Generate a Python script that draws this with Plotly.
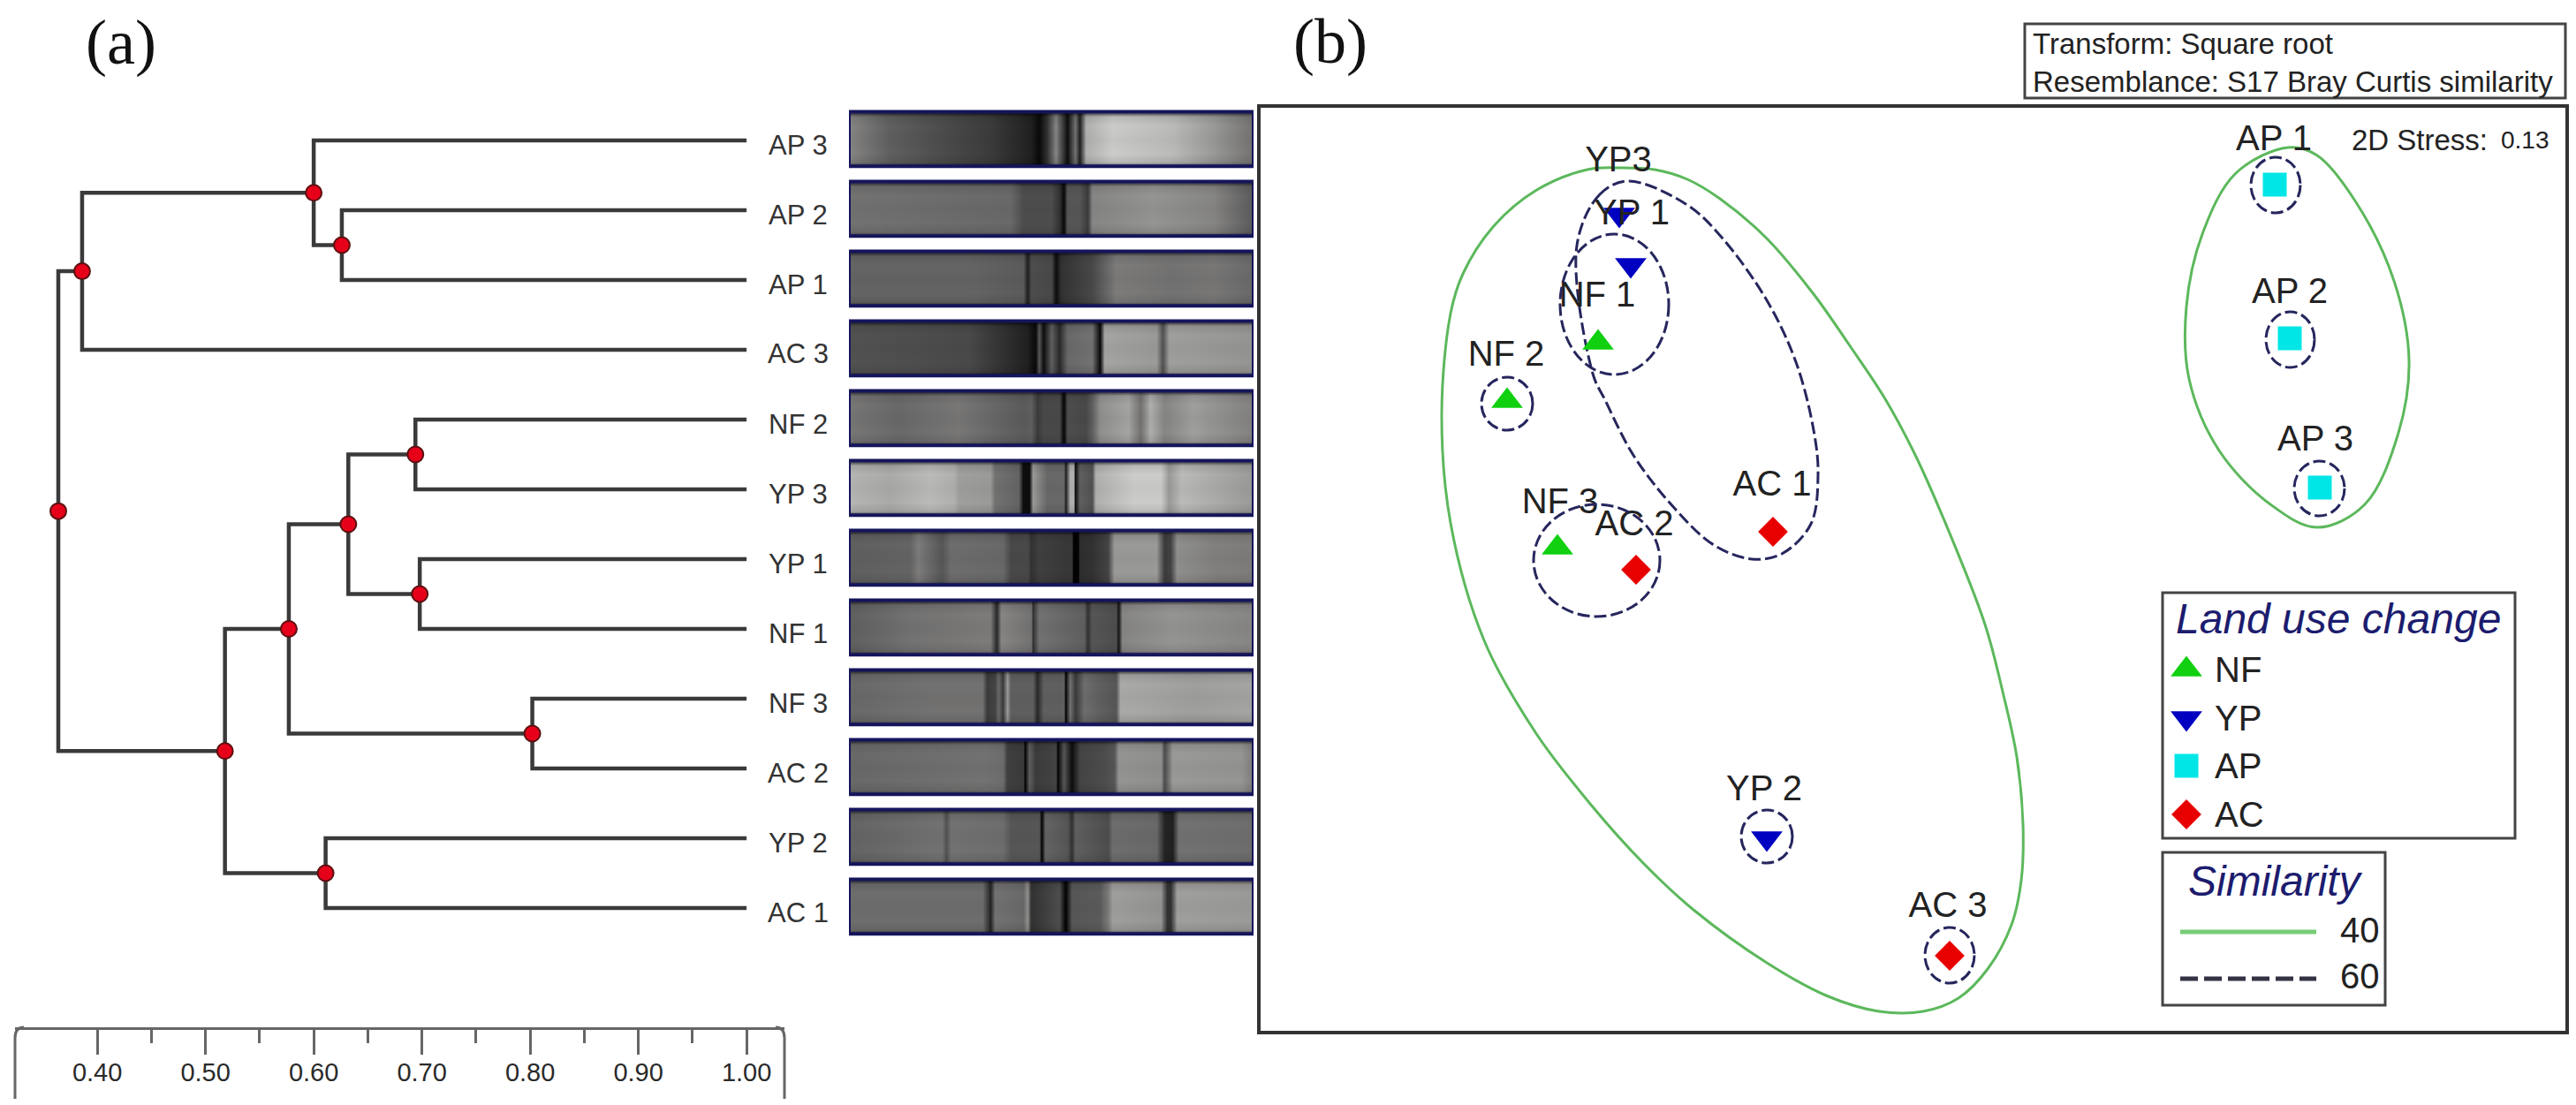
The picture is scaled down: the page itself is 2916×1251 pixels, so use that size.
import plotly.graph_objects as go

W, H = 2916, 1251

# dendrogram: leaves top to bottom, then merges (children index into leaves + earlier merges)
leaf_labels = ["AP 3", "AP 2", "AP 1", "AC 3", "NF 2", "YP 3", "YP 1", "NF 1", "NF 3", "AC 2", "YP 2", "AC 1"]
merge_left = [1, 0, 13, 4, 6, 15, 8, 17, 10, 19, 14]
merge_right = [2, 12, 3, 5, 7, 16, 9, 18, 11, 20, 21]
merge_similarity = [0.626, 0.600, 0.386, 0.694, 0.698, 0.632, 0.802, 0.577, 0.611, 0.518, 0.364]
scale_ticks = [0.40, 0.50, 0.60, 0.70, 0.80, 0.90, 1.00]
scale_minor = [0.45, 0.55, 0.65, 0.75, 0.85, 0.95]

# gel lanes: position along the strip (%) and grey level
gel_x_ap3 = [0, 10, 25, 35, 45, 47, 49, 51, 53, 54, 56, 57, 58.5, 65, 80, 90, 100]
gel_g_ap3 = [150, 110, 85, 70, 40, 15, 60, 150, 60, 20, 130, 40, 190, 215, 200, 170, 130]
gel_x_ap2 = [0, 20, 40, 43, 50, 52, 53, 54, 57, 59, 60, 75, 90, 100]
gel_g_ap2 = [130, 125, 120, 90, 90, 60, 15, 100, 100, 70, 150, 165, 150, 105]
gel_x_ap1 = [0, 30, 43, 44, 45, 50, 51, 52.5, 60, 66, 80, 90, 100]
gel_g_ap1 = [115, 115, 105, 40, 90, 85, 20, 60, 85, 140, 130, 135, 120]
gel_x_ac3 = [0, 18, 30, 44, 46, 47, 48, 50, 52, 54, 60, 62, 63, 76, 77.5, 79, 100]
gel_g_ac3 = [95, 90, 85, 40, 15, 100, 20, 110, 50, 120, 130, 15, 180, 170, 95, 175, 165]
gel_x_nf2 = [0, 12, 27, 43, 45, 46.5, 48, 52, 53, 54, 58.5, 60, 62, 69, 72, 74.5, 78, 85, 100]
gel_g_nf2 = [135, 120, 135, 105, 110, 70, 85, 85, 10, 90, 85, 110, 160, 180, 130, 190, 150, 175, 145]
gel_x_yp3 = [0, 10, 20, 26, 27, 35, 36, 42, 43, 44.5, 45.5, 49, 53, 53.5, 54.5, 55.5, 56, 57, 60, 61, 70, 77, 79, 82, 100]
gel_g_yp3 = [195, 185, 200, 190, 175, 170, 130, 115, 20, 20, 170, 120, 120, 40, 190, 190, 20, 110, 95, 190, 215, 215, 170, 200, 170]
gel_x_yp1 = [0, 15, 17, 23, 25, 38, 40, 44, 45, 47, 55, 55.5, 56.5, 57, 60, 64, 65.5, 76, 78, 79.5, 81, 90, 100]
gel_g_yp1 = [110, 115, 140, 100, 125, 120, 85, 85, 60, 75, 65, 5, 5, 55, 60, 80, 170, 170, 70, 80, 160, 145, 140]
gel_x_nf1 = [0, 15, 35, 36.5, 37.5, 45, 45.5, 47, 58, 59, 60, 66, 66.5, 67.5, 80, 100]
gel_g_nf1 = [110, 130, 140, 50, 150, 130, 60, 130, 110, 60, 100, 90, 30, 150, 165, 150]
gel_x_nf3 = [0, 20, 33, 34, 36, 37, 38, 39, 40, 45.5, 46.5, 48, 53, 53.5, 54.5, 56, 58, 62, 66, 67, 85, 100]
gel_g_nf3 = [120, 130, 130, 70, 80, 120, 70, 170, 110, 110, 50, 110, 110, 10, 130, 70, 125, 110, 100, 185, 175, 180]
gel_x_ac2 = [0, 33, 38, 39, 43, 43.5, 44.5, 46, 51, 51.5, 53, 55, 57, 63, 65.5, 66.5, 77, 78, 80, 97, 100]
gel_g_ac2 = [120, 130, 125, 75, 70, 10, 110, 70, 80, 10, 100, 20, 80, 90, 100, 165, 160, 90, 170, 165, 140]
gel_x_yp2 = [0, 23, 24, 25, 38, 40, 47, 47.5, 48.5, 54, 55, 56, 64, 65, 76, 78, 80, 81.5, 100]
gel_g_yp2 = [115, 130, 95, 130, 125, 100, 100, 10, 115, 100, 60, 110, 90, 125, 120, 45, 40, 130, 125]
gel_x_ac1 = [0, 33, 35, 36, 43, 44, 45, 52, 53.5, 55, 62, 64, 65, 77, 78.5, 79.5, 81, 100]
gel_g_ac1 = [125, 125, 45, 130, 120, 160, 60, 90, 5, 100, 105, 140, 175, 165, 60, 60, 175, 170]
gel_rows = [-0.37, -0.33, -0.2, 0, 0.2, 0.33, 0.37]
gel_row_shade = [0.55, 0.92, 1.0, 0.97, 1.0, 0.92, 0.6]

gel_lanes = [
    (gel_x_ap3, gel_g_ap3), (gel_x_ap2, gel_g_ap2), (gel_x_ap1, gel_g_ap1), (gel_x_ac3, gel_g_ac3),
    (gel_x_nf2, gel_g_nf2), (gel_x_yp3, gel_g_yp3), (gel_x_yp1, gel_g_yp1), (gel_x_nf1, gel_g_nf1),
    (gel_x_nf3, gel_g_nf3), (gel_x_ac2, gel_g_ac2), (gel_x_yp2, gel_g_yp2), (gel_x_ac1, gel_g_ac1),
]

# ordination (b), axis units are the reference's pixels, the plot has no scale of its own
nf_x, nf_y = [1809, 1706, 1763], [388, 454, 620]
yp_x, yp_y = [1846, 2000, 1833], [300, 949, 243]
ap_x, ap_y = [2575, 2592, 2626], [209, 383, 552]
ac_x, ac_y = [2007, 1852, 2207], [602, 645, 1082]
point_labels = ["AP 1", "AP 2", "AP 3", "YP3", "YP 1", "NF 1", "NF 2", "AC 1", "NF 3", "AC 2", "YP 2", "AC 3"]
label_x = [2574, 2592, 2621, 1832, 1847, 1808, 1705, 2006, 1766, 1850, 1997, 2205]
label_y = [160, 333, 500, 184, 244, 337, 404, 551, 571, 596, 896, 1028]

green_left_x = [1835, 1797, 1738, 1690, 1656, 1642, 1632, 1642, 1680, 1738, 1800, 1860, 1917, 2000, 2067, 2127, 2177,
                2217, 2250, 2277, 2288, 2290, 2283, 2267, 2247, 2200, 2167, 2133, 2093, 2053, 2000, 1947, 1910, 1873, 1835]
green_left_y = [190, 192, 216, 257, 310, 355, 469, 592, 725, 829, 910, 977, 1030, 1090, 1127, 1145, 1145,
                1130, 1097, 1047, 997, 933, 857, 783, 707, 587, 513, 450, 390, 333, 270, 225, 203, 192, 190]
green_right_x = [2590, 2531, 2493, 2475, 2478, 2512, 2570, 2623, 2677, 2715, 2727, 2710, 2667, 2623, 2590]
green_right_y = [167, 196, 265, 347, 429, 510, 571, 597, 571, 490, 408, 318, 229, 176, 167]
dashed_long_x = [1843, 1811, 1785, 1803, 1817, 1850, 1897, 1940, 1983, 2017, 2050, 2058, 2053, 2033, 2000, 1950, 1910, 1843]
dashed_long_y = [205, 220, 278, 423, 453, 517, 577, 617, 633, 627, 593, 537, 487, 410, 340, 270, 232, 205]

ring_x0 = [2548, 2565, 2597, 1677, 1971, 2179, 1766, 1736]
ring_x1 = [2604, 2620, 2654, 1735, 2029, 2235, 1889, 1879]
ring_y0 = [178, 353, 522, 427, 917, 1050, 265, 571]
ring_y1 = [241, 416, 584, 487, 977, 1113, 424, 698]

GREEN = "#5cb85c"
NAVY = "#26265e"
DARK = "#222222"
SANS = "Liberation Sans"


def px(x):
    return x / W


def py(y):
    return 1 - y / H


def note(text, x, y, size, anchor="center", color=DARK, family=SANS):
    return dict(
        text=text, x=px(x), y=py(y), xref="paper", yref="paper", xanchor=anchor, yanchor="middle",
        showarrow=False, font=dict(size=size, color=color, family=family),
    )


def box(x0, y0, x1, y1, width=3, color="#444444"):
    return dict(
        type="rect", xref="paper", yref="paper", x0=px(x0), x1=px(x1), y0=py(y0), y1=py(y1),
        line=dict(color=color, width=width),
    )


fig = go.Figure()

# dendrogram
node_x = [1.0] * len(leaf_labels) + list(merge_similarity)
node_y = list(range(len(leaf_labels)))
for a, b in zip(merge_left, merge_right):
    node_y.append((node_y[a] + node_y[b]) / 2)

tree_x, tree_y = [], []
for i, (a, b) in enumerate(zip(merge_left, merge_right)):
    n = len(leaf_labels) + i
    tree_x += [node_x[a], node_x[n], node_x[n], node_x[b], None]
    tree_y += [node_y[a], node_y[a], node_y[b], node_y[b], None]

fig.add_trace(go.Scatter(
    x=tree_x, y=tree_y, mode="lines", line=dict(color="#3a3a3a", width=4.5), cliponaxis=False,
    xaxis="x", yaxis="y", showlegend=False,
))
fig.add_trace(go.Scatter(
    x=merge_similarity, y=node_y[len(leaf_labels):], mode="markers",
    marker=dict(symbol="circle", size=18, color="#e6001a", line=dict(color="#5a1010", width=2)),
    cliponaxis=False, xaxis="x", yaxis="y", showlegend=False,
))

# gel strips
for i, (gx, gg) in enumerate(gel_lanes):
    fig.add_trace(go.Heatmap(
        x=gx, y=[i - 0.02 + r for r in gel_rows],
        z=[[g * s for g in gg] for s in gel_row_shade],
        colorscale="Gray", zmin=0, zmax=255, zsmooth="best", showscale=False,
        xaxis="x2", yaxis="y", hoverinfo="skip",
    ))

# ordination clusters
fig.add_trace(go.Scatter(
    x=green_left_x, y=green_left_y, mode="lines", line=dict(color=GREEN, width=3, shape="spline", smoothing=1),
    xaxis="x3", yaxis="y3", showlegend=False,
))
fig.add_trace(go.Scatter(
    x=green_right_x, y=green_right_y, mode="lines", line=dict(color=GREEN, width=3, shape="spline", smoothing=1),
    xaxis="x3", yaxis="y3", showlegend=False,
))
fig.add_trace(go.Scatter(
    x=dashed_long_x, y=dashed_long_y, mode="lines",
    line=dict(color=NAVY, width=3, dash="14px,5px", shape="spline", smoothing=1),
    xaxis="x3", yaxis="y3", showlegend=False,
))

# ordination points and the legend glyphs next to them
groups = [
    (nf_x, nf_y, "triangle-up", "#10d010", 31, 758),
    (yp_x, yp_y, "triangle-down", "#0000c0", 31, 813),
    (ap_x, ap_y, "square", "#00e6e6", 27, 867),
    (ac_x, ac_y, "diamond", "#e80000", 26, 922),
]
for gx, gy, symbol, color, size, key_y in groups:
    fig.add_trace(go.Scatter(
        x=gx + [2475], y=gy + [key_y], mode="markers", marker=dict(symbol=symbol, size=size, color=color),
        xaxis="x3", yaxis="y3", showlegend=False,
    ))
fig.add_trace(go.Scatter(
    x=label_x, y=label_y, mode="text", text=point_labels, textposition="middle center",
    textfont=dict(size=40, color=DARK, family=SANS), xaxis="x3", yaxis="y3", showlegend=False,
))
fig.add_trace(go.Scatter(
    x=[2468, 2622], y=[1055, 1055], mode="lines", line=dict(color="#78cc78", width=5),
    xaxis="x3", yaxis="y3", showlegend=False,
))
fig.add_trace(go.Scatter(
    x=[2468, 2622], y=[1108, 1108], mode="lines", line=dict(color="#333344", width=5, dash="20px,7px"),
    xaxis="x3", yaxis="y3", showlegend=False,
))

shapes = []
for i in range(len(leaf_labels)):
    shapes.append(dict(
        type="rect", xref="x2", yref="y", x0=0, x1=100, y0=i - 0.39 - 0.02, y1=i + 0.39 - 0.02,
        line=dict(color="#15155c", width=4),
    ))
for x0, x1, y0, y1 in zip(ring_x0, ring_x1, ring_y0, ring_y1):
    shapes.append(dict(
        type="circle", xref="x3", yref="y3", x0=x0, x1=x1, y0=y0, y1=y1,
        line=dict(color=NAVY, width=3, dash="14px,5px"),
    ))
shapes.append(box(2292, 27, 2904, 111))
shapes.append(box(2448, 671, 2847, 949))
shapes.append(box(2448, 965, 2700, 1138))
# rounded bracket ends of the similarity scale
for x_end, x_in in [(17, 27), (888, 878)]:
    shapes.append(dict(
        type="path", xref="paper", yref="paper",
        path=f"M {px(x_end)},{py(1244)} L {px(x_end)},{py(1175)} Q {px(x_end)},{py(1163)} {px(x_in)},{py(1163)}",
        line=dict(color="#666666", width=3),
    ))

annotations = [
    note("(a)", 137, 48, 72, family="Liberation Serif", color="#111111"),
    note("(b)", 1506, 47, 72, family="Liberation Serif", color="#111111"),
    note("Transform: Square root", 2299, 49, 33, anchor="left"),
    note("Resemblance: S17 Bray Curtis similarity", 2299, 92, 33, anchor="left"),
    note("2D Stress:", 2660, 158, 33, anchor="left"),
    note("0.13", 2829, 159, 28, anchor="left"),
    note("<i>Land use change</i>", 2647, 700, 48, color="#1c1c6e"),
    note("NF", 2505, 758, 40, anchor="left"),
    note("YP", 2505, 813, 40, anchor="left"),
    note("AP", 2505, 867, 40, anchor="left"),
    note("AC", 2505, 922, 40, anchor="left"),
    note("<i>Similarity</i>", 2576, 997, 48, color="#1c1c6e"),
    note("40", 2671, 1053, 40),
    note("60", 2671, 1105, 40),
]
for i, label in enumerate(leaf_labels):
    annotations.append(note(label, 903, 164 + 79 * i, 31, color="#333333"))

fig.update_layout(
    width=W, height=H, autosize=False, margin=dict(l=0, r=0, t=0, b=0),
    paper_bgcolor="white", plot_bgcolor="rgba(0,0,0,0)", showlegend=False,
    shapes=shapes, annotations=annotations,
    xaxis=dict(
        domain=[px(17), px(888)], range=[0.324, 1.035], anchor="y", showgrid=False, zeroline=False,
        showline=True, linecolor="#666666", linewidth=3,
        tickmode="array", tickvals=scale_ticks, ticktext=[f"{t:.2f}" for t in scale_ticks],
        ticks="outside", ticklen=28, tickwidth=3, tickcolor="#666666", ticklabelstandoff=-5,
        minor=dict(tickmode="array", tickvals=scale_minor, ticks="outside", ticklen=15, tickwidth=3, tickcolor="#666666"),
        tickfont=dict(size=29, color="#2a2a2a", family=SANS),
    ),
    yaxis=dict(
        domain=[py(1163), 1], range=[12.709, -2.0127], anchor="x", visible=False,
    ),
    xaxis2=dict(domain=[px(961), px(1419)], range=[0, 100], anchor="y", visible=False),
    xaxis3=dict(
        domain=[px(1427), px(2904)], range=[1427, 2904], anchor="y3", showgrid=False, zeroline=False,
        showline=True, mirror=True, linecolor="#333333", linewidth=4, showticklabels=False, ticks="",
    ),
    yaxis3=dict(
        domain=[py(1167), py(122)], range=[1167, 122], anchor="x3", showgrid=False, zeroline=False,
        showline=True, mirror=True, linecolor="#333333", linewidth=4, showticklabels=False, ticks="",
    ),
)

fig.write_html("out.html", config={"displayModeBar": False}, post_script="document.body.style.margin='0';")
